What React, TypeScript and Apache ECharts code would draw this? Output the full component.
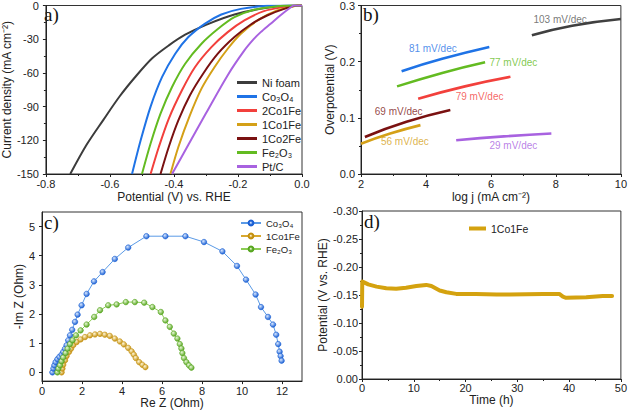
import React, { useEffect, useRef } from "react";
import * as echarts from "echarts";

const FONT = "Liberation Sans, Arial, Helvetica, sans-serif";
const SERIF = "Liberation Serif, Times New Roman, serif";

// ---------- Panel a: LSV curves [potential V, current density mA cm-2]
const LSV_NAMES = ["Ni foam", "Co₃O₄", "2Co1Fe", "1Co1Fe", "1Co2Fe", "Fe₂O₃", "Pt/C"];
const LSV_NI = [[-0.724, -150], [-0.673, -124], [-0.621, -102], [-0.57, -81], [-0.519, -63], [-0.468, -47], [-0.416, -35.5], [-0.365, -26], [-0.298, -17], [-0.211, -8], [-0.109, -2], [-0.03, 0], [0, 0]];
const LSV_CO = [[-0.531, -150], [-0.504, -120], [-0.473, -90], [-0.437, -63.6], [-0.396, -42.9], [-0.355, -28.1], [-0.304, -16.3], [-0.252, -8], [-0.191, -3], [-0.109, -0.3], [-0.03, 0], [0, 0]];
const LSV_2C1F = [[-0.473, -150], [-0.447, -125.7], [-0.416, -100.6], [-0.375, -75.4], [-0.334, -54.7], [-0.283, -37], [-0.232, -23.7], [-0.18, -13.3], [-0.119, -5], [-0.047, -0.9], [-0.02, 0], [0, 0]];
const LSV_1C1F = [[-0.411, -150], [-0.386, -125.7], [-0.35, -97.6], [-0.314, -74], [-0.273, -54.7], [-0.232, -38.5], [-0.191, -25.2], [-0.139, -13.3], [-0.078, -4.4], [-0.027, -0.9], [-0.015, 0], [0, 0]];
const LSV_1C2F = [[-0.442, -150], [-0.416, -125.7], [-0.386, -102.1], [-0.35, -79.9], [-0.309, -60.7], [-0.263, -42.9], [-0.211, -28.1], [-0.16, -16.9], [-0.109, -8.9], [-0.047, -2.1], [-0.015, 0], [0, 0]];
const LSV_FE = [[-0.5, -150], [-0.473, -122.8], [-0.442, -96.2], [-0.406, -72.5], [-0.365, -51.8], [-0.314, -34], [-0.262, -20.7], [-0.211, -10.4], [-0.15, -3.8], [-0.078, -0.6], [-0.03, 0], [0, 0]];
const LSV_PT = [[-0.406, -150], [-0.355, -124], [-0.3, -96], [-0.232, -62], [-0.18, -40], [-0.151, -30], [-0.129, -23.7], [-0.098, -16.2], [-0.068, -8.9], [-0.037, -2], [-0.025, 0], [0, 0]];
const LSV_DATA = [LSV_NI, LSV_CO, LSV_2C1F, LSV_1C1F, LSV_1C2F, LSV_FE, LSV_PT];
const LSV_COLORS = ["#3c3c3c", "#1f73e6", "#f2403c", "#d4a017", "#7a1111", "#63bb21", "#a862e0"];

// ---------- Panel b: Tafel [log j, overpotential V]
const TAFEL_NI = [[7.26, 0.247], [8.5, 0.264], [10, 0.276]];
const TAFEL_CO = [[3.25, 0.183], [4.5, 0.205], [5.95, 0.226]];
const TAFEL_FE = [[3.11, 0.156], [4.5, 0.18], [5.82, 0.199]];
const TAFEL_2C1F = [[3.76, 0.134], [5.2, 0.156], [6.6, 0.173]];
const TAFEL_1C2F = [[2.12, 0.066], [3.4, 0.093], [4.75, 0.114]];
const TAFEL_1C1F = [[2.0, 0.054], [2.9, 0.072], [3.83, 0.087]];
const TAFEL_PT = [[4.93, 0.06], [6.4, 0.067], [7.86, 0.072]];
const TAFEL_DATA = [TAFEL_NI, TAFEL_CO, TAFEL_FE, TAFEL_2C1F, TAFEL_1C2F, TAFEL_1C1F, TAFEL_PT];
const TAFEL_COLORS = ["#404040", "#1f73e6", "#63bb21", "#f2403c", "#7a1111", "#d4a017", "#a862e0"];
const TAFEL_LABELS = ["103 mV/dec", "81 mV/dec", "77 mV/dec", "79 mV/dec", "69 mV/dec", "56 mV/dec", "29 mV/dec"];
const TAFEL_LABEL_POS = [[8.13, 0.275], [4.21, 0.224], [6.69, 0.199], [5.65, 0.138], [3.16, 0.112], [3.35, 0.057], [6.69, 0.05]];
const TAFEL_LABEL_COLORS = ["#555555", "#1f73e6", "#63bb21", "#f2403c", "#7a1111", "#d4a017", "#a862e0"];

// ---------- Panel c: Nyquist [Re Z, -Im Z]
const NYQ_NAMES = ["Co₃O₄", "1Co1Fe", "Fe₂O₃"];
const NYQ_CO = [[0.52, 0], [0.57, 0.13], [0.62, 0.24], [0.68, 0.35], [0.77, 0.45], [0.87, 0.53], [0.98, 0.61], [1.06, 0.7], [1.15, 0.81], [1.23, 0.93], [1.31, 1.1], [1.4, 1.27], [1.51, 1.46], [1.65, 1.73], [1.78, 1.98], [1.98, 2.3], [2.23, 2.69], [2.6, 3.12], [3.03, 3.44], [3.64, 3.89], [4.31, 4.28], [5.22, 4.67], [6.17, 4.67], [7.17, 4.67], [8.1, 4.47], [9.02, 4.15], [9.75, 3.65], [10.2, 3.18], [10.68, 2.67], [10.95, 2.24], [11.3, 1.9], [11.55, 1.64], [11.71, 1.29], [11.81, 0.97], [11.88, 0.71], [11.93, 0.56], [11.98, 0.4]];
const NYQ_1C1F = [[0.98, 0], [1.02, 0.13], [1.06, 0.26], [1.15, 0.41], [1.23, 0.56], [1.35, 0.7], [1.45, 0.81], [1.56, 0.93], [1.73, 1.04], [1.93, 1.13], [2.15, 1.21], [2.4, 1.27], [2.65, 1.3], [2.9, 1.32], [3.14, 1.29], [3.39, 1.25], [3.64, 1.16], [3.89, 1.06], [4.09, 0.96], [4.31, 0.84], [4.48, 0.72], [4.59, 0.61], [4.69, 0.49], [4.86, 0.35], [5.02, 0.26], [5.17, 0.18]];
const NYQ_FE = [[0.77, 0], [0.82, 0.13], [0.9, 0.24], [0.98, 0.38], [1.06, 0.51], [1.18, 0.66], [1.28, 0.81], [1.4, 0.97], [1.53, 1.1], [1.7, 1.27], [1.93, 1.44], [2.23, 1.64], [2.61, 1.9], [2.9, 2.13], [3.31, 2.3], [3.73, 2.33], [4.19, 2.41], [4.64, 2.41], [5.11, 2.39], [5.52, 2.24], [5.94, 2.07], [6.17, 1.78], [6.39, 1.56], [6.59, 1.33], [6.77, 1.16], [6.89, 0.97], [6.97, 0.82], [7.02, 0.66], [7.1, 0.49], [7.22, 0.35], [7.35, 0.24], [7.47, 0.16]];
const NYQ_DATA = [NYQ_CO, NYQ_1C1F, NYQ_FE];
const NYQ_LINE = ["#5a9ae6", "#d8a830", "#8ccc55"];
const NYQ_LIGHT = ["#d8e8ff", "#fff6d6", "#e8f8d6"];
const NYQ_DARK = ["#1a5fd4", "#c4900e", "#57a620"];
const NYQ_TICKS_X = [0, 2, 4, 6, 8, 10, 12];
const NYQ_TICKS_Y = [0, 1, 2, 3, 4, 5];

// ---------- Panel d: stability [time h, potential V]
const STAB_T = [0, 0.05, 0.3, 1.2, 2.8, 4.7, 6.6, 8.5, 10.5, 12.4, 13.4, 14.2, 15.0, 16.3, 18.2, 22, 26, 28.5, 35, 38.1, 38.8, 39.4, 43.3, 46.5, 48.3];
const STAB_V = [-0.129, -0.174, -0.173, -0.169, -0.165, -0.162, -0.161, -0.163, -0.166, -0.168, -0.166, -0.162, -0.158, -0.155, -0.152, -0.152, -0.151, -0.151, -0.152, -0.152, -0.147, -0.145, -0.146, -0.148, -0.148];

const axisBase = (gridIndex: number) => ({
  gridIndex,
  axisLine: { show: true, onZero: false, lineStyle: { color: "#222", width: 1 } },
  axisTick: { show: true, length: 3, lineStyle: { color: "#222" } },
  minorTick: { show: true, splitNumber: 2, length: 2, lineStyle: { color: "#222" } },
  splitLine: { show: false },
  nameLocation: "middle",
  nameTextStyle: { fontSize: 12, color: "#222", fontFamily: FONT },
});
const lab = (margin: number, formatter?: any) => ({
  fontSize: 11, color: "#222", fontFamily: FONT, margin, formatter,
});

export default function App() {
  const ref = useRef<HTMLDivElement>(null);
  useEffect(() => {
    if (!ref.current) return;
    const chart = echarts.init(ref.current, null, { renderer: "svg" });
    const series: any[] = [];
    LSV_DATA.forEach((d, i) => {
      series.push({
        name: "a|" + LSV_NAMES[i], type: "line", xAxisIndex: 0, yAxisIndex: 0,
        data: d, symbol: "none", smooth: 0.3, lineStyle: { width: 2, color: LSV_COLORS[i] },
        itemStyle: { color: LSV_COLORS[i] },
      });
    });
    TAFEL_DATA.forEach((d, i) => {
      series.push({
        name: "b|" + i, type: "line", xAxisIndex: 1, yAxisIndex: 1,
        data: d, symbol: "none", smooth: true, lineStyle: { width: 2.6, color: TAFEL_COLORS[i] },
      });
    });
    series.push({
      name: "b|labels", type: "scatter", xAxisIndex: 1, yAxisIndex: 1, symbolSize: 0.1,
      itemStyle: { color: "rgba(0,0,0,0)" },
      data: TAFEL_LABEL_POS.map((p, i) => ({
        value: p, name: TAFEL_LABELS[i],
        label: { show: true, position: "inside", formatter: "{b}", color: TAFEL_LABEL_COLORS[i], fontSize: 10, fontFamily: FONT },
      })),
    });
    NYQ_DATA.forEach((d, i) => {
      series.push({
        name: "c|" + NYQ_NAMES[i], type: "line", xAxisIndex: 2, yAxisIndex: 2,
        data: d, symbol: "circle", symbolSize: 5.5, showSymbol: true,
        lineStyle: { width: 1, color: NYQ_LINE[i] },
        itemStyle: {
          color: { type: "radial", x: 0.38, y: 0.35, r: 0.65, colorStops: [{ offset: 0, color: NYQ_LIGHT[i] }, { offset: 1, color: NYQ_DARK[i] }] },
          borderColor: NYQ_DARK[i], borderWidth: 0.6,
        },
      });
    });
    series.push({
      name: "d|1Co1Fe", type: "line", xAxisIndex: 3, yAxisIndex: 3,
      data: STAB_T.map((t, i) => [t, STAB_V[i]]), symbol: "none",
      lineStyle: { width: 4, color: "#d4a20f", cap: "round", join: "round" },
      itemStyle: { color: "#d4a20f" },
    });

    const strip = (n: string) => n.split("|")[1];
    const grid = (left: number, top: number, width: number, height: number) => ({
      left, top, width, height, show: true, borderColor: "#333", borderWidth: 1, backgroundColor: "transparent", containLabel: false,
    });

    chart.setOption({
      animation: false,
      grid: [grid(42, 5, 260, 169), grid(361, 5, 261, 169), grid(42, 212, 260, 170), grid(362, 211, 260, 168)],
      xAxis: [
        { ...axisBase(0), type: "value", min: -0.8, max: 0, interval: 0.2, name: "Potential (V) vs. RHE", nameGap: 17,
          axisLabel: lab(4, (v: number) => v.toFixed(1)) },
        { ...axisBase(1), type: "value", min: 2, max: 10, interval: 2, name: "log j (mA cm⁻²)", nameGap: 17,
          axisLabel: lab(4) },
        { ...axisBase(2), type: "value", min: 0, max: 13, name: "Re Z (Ohm)", nameGap: 14,
          minorTick: { show: false },
          axisTick: { show: true, length: 3, lineStyle: { color: "#222" }, customValues: NYQ_TICKS_X },
          axisLabel: { ...lab(4), customValues: NYQ_TICKS_X } },
        { ...axisBase(3), type: "value", min: 0, max: 50, interval: 10, name: "Time (h)", nameGap: 15,
          axisLabel: lab(3) },
      ],
      yAxis: [
        { ...axisBase(0), type: "value", min: -150, max: 0, interval: 30, name: "Current density (mA cm⁻²)", nameGap: 27,
          axisLabel: lab(7) },
        { ...axisBase(1), type: "value", min: 0, max: 0.3, interval: 0.1, name: "Overpotential (V)", nameGap: 23,
          axisLabel: lab(6, (v: number) => v.toFixed(1)) },
        { ...axisBase(2), type: "value", min: -0.3, max: 5.5, name: "-Im Z (Ohm)", nameGap: 16,
          minorTick: { show: false },
          axisTick: { show: true, length: 3, lineStyle: { color: "#222" }, customValues: NYQ_TICKS_Y },
          axisLabel: { ...lab(7), customValues: NYQ_TICKS_Y } },
        { ...axisBase(3), type: "value", min: -0.3, max: 0, interval: 0.05, inverse: true, name: "Potential (V vs. RHE)", nameGap: 31,
          axisLabel: lab(4, (v: number) => (Math.abs(v) < 1e-9 ? "0.00" : v.toFixed(2))) },
      ],
      legend: [
        { orient: "vertical", left: 232, top: 72, itemWidth: 20, itemHeight: 3, itemGap: 3, icon: "rect",
          textStyle: { fontSize: 11, fontFamily: FONT, color: "#222" },
          data: LSV_NAMES.map((n) => "a|" + n), formatter: strip },
        { orient: "vertical", left: 235, top: 213, itemWidth: 20, itemHeight: 6, itemGap: 3,
          textStyle: { fontSize: 9.5, fontFamily: FONT, color: "#222" },
          data: NYQ_NAMES.map((n) => "c|" + n), formatter: strip },
        { orient: "vertical", left: 464, top: 218, itemWidth: 17, itemHeight: 4, icon: "rect",
          textStyle: { fontSize: 10.5, fontFamily: FONT, color: "#222" },
          data: ["d|1Co1Fe"], formatter: strip },
      ],
      graphic: [
        { type: "text", left: 44, top: 5, style: { text: "a)", font: `19px ${SERIF}`, fill: "#111" } },
        { type: "text", left: 363, top: 5, style: { text: "b)", font: `19px ${SERIF}`, fill: "#111" } },
        { type: "text", left: 44, top: 213, style: { text: "c)", font: `19px ${SERIF}`, fill: "#111" } },
        { type: "text", left: 364, top: 212, style: { text: "d)", font: `19px ${SERIF}`, fill: "#111" } },
      ],
      series,
    });
    return () => chart.dispose();
  }, []);
  return (
    <div
      ref={ref}
      style={{ position: "fixed", left: 0, top: 0, width: 630, height: 410, background: "#fff" }}
    />
  );
}
